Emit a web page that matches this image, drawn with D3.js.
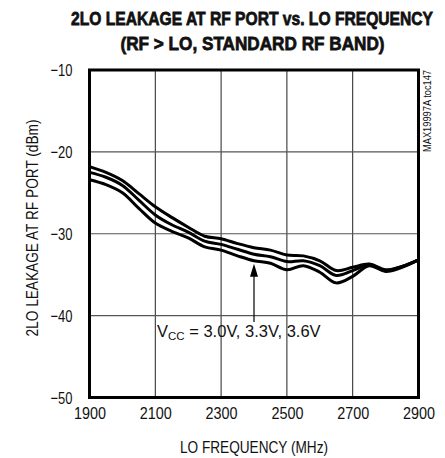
<!DOCTYPE html>
<html>
<head>
<meta charset="utf-8">
<script src="https://cdn.jsdelivr.net/npm/d3@7"></script>
<style>
  html, body { margin: 0; padding: 0; background: #fff; }
  text { font-family: "Liberation Sans Narrow", "Liberation Sans", Arial, sans-serif; fill: #111; }
</style>
</head>
<body>
<svg id="chart" width="445" height="458"></svg>
<script>
// ---- data ----
const freqs = [1900, 1950, 2000, 2050, 2100, 2150, 2200, 2250, 2300, 2350, 2400, 2450, 2500, 2550, 2600, 2650, 2700, 2750, 2800, 2850, 2900];
const seriesTop = [-21.8, -22.5, -23.5, -25.1, -26.7, -28.0, -29.2, -30.3, -30.6, -31.2, -31.7, -32.0, -32.6, -32.7, -33.3, -34.5, -34.1, -33.7, -34.4, -34.0, -33.2];
const seriesMid = [-22.5, -23.1, -24.1, -25.9, -27.7, -28.9, -29.8, -30.9, -31.3, -31.9, -32.5, -32.8, -33.4, -33.3, -33.9, -35.1, -34.5, -33.8, -34.5, -34.0, -33.2];
const seriesBot = [-23.4, -24.0, -25.0, -26.9, -28.7, -29.7, -30.5, -31.6, -32.0, -32.7, -33.3, -33.6, -34.4, -33.9, -34.7, -36.0, -35.2, -33.9, -34.6, -34.1, -33.2];
const xTicks = [1900, 2100, 2300, 2500, 2700, 2900];
const yTicks = [-10, -20, -30, -40, -50];
const titleLines = ["2LO LEAKAGE AT RF PORT vs. LO FREQUENCY", "(RF > LO, STANDARD RF BAND)"];
const xLabel = "LO FREQUENCY (MHz)";
const yLabel = "2LO LEAKAGE AT RF PORT (dBm)";
const watermark = "MAX19997A toc147";
const arrowFreq = 2400;

// ---- layout ----
const svg = d3.select("#chart");
const pL = 89.5, pR = 418.5, pT = 70, pB = 397.5;
const x = d3.scaleLinear().domain([1900, 2900]).range([pL, pR]);
const y = d3.scaleLinear().domain([-50, -10]).range([pB, pT]);

// title (condensed heavy look: small font stretched vertically)
svg.append("text").attr("transform", "translate(252,25) scale(1,1.25)").attr("text-anchor", "middle")
  .attr("font-size", 15).attr("font-weight", "bold")
  .attr("stroke", "#111").attr("stroke-width", 0.6)
  .attr("textLength", 362).attr("lengthAdjust", "spacingAndGlyphs")
  .text(titleLines[0]);
svg.append("text").attr("transform", "translate(252.5,50) scale(1,1.25)").attr("text-anchor", "middle")
  .attr("font-size", 15).attr("font-weight", "bold")
  .attr("stroke", "#111").attr("stroke-width", 0.6)
  .attr("textLength", 264).attr("lengthAdjust", "spacingAndGlyphs")
  .text(titleLines[1]);

// grid
const grid = svg.append("g");
grid.selectAll("line.v").data(xTicks.slice(1, -1)).enter().append("line")
  .attr("x1", d => x(d)).attr("x2", d => x(d)).attr("y1", pT).attr("y2", pB)
  .attr("stroke", "#222").attr("stroke-width", 1);
grid.selectAll("line.h").data(yTicks.slice(1, -1)).enter().append("line")
  .attr("y1", d => y(d)).attr("y2", d => y(d)).attr("x1", pL).attr("x2", pR)
  .attr("stroke", "#555").attr("stroke-width", 1.2);

// axes (labels only)
const xAxis = d3.axisBottom(x).tickValues(xTicks).tickSize(0).tickPadding(0).tickFormat(d3.format("d"));
const gx = svg.append("g").attr("transform", `translate(0,${pB})`).call(xAxis);
gx.select(".domain").remove();
gx.selectAll("text").attr("font-size", 17).attr("dy", null).attr("y", 21)
  .attr("textLength", 32).attr("lengthAdjust", "spacingAndGlyphs")
  .style("font-family", '"Liberation Sans Narrow", "Liberation Sans", Arial, sans-serif').attr("fill", "#111");

const yAxis = d3.axisLeft(y).tickValues(yTicks).tickSize(0).tickPadding(0).tickFormat(d3.format("d"));
const gy = svg.append("g").attr("transform", `translate(${pL},0)`).call(yAxis);
gy.select(".domain").remove();
gy.selectAll("text").attr("font-size", 17).attr("x", -17).attr("dy", "0.35em")
  .attr("textLength", 22).attr("lengthAdjust", "spacingAndGlyphs")
  .style("font-family", '"Liberation Sans Narrow", "Liberation Sans", Arial, sans-serif').attr("fill", "#111");

// axis titles
svg.append("text").attr("x", 254).attr("y", 453).attr("text-anchor", "middle")
  .attr("font-size", 16.5).attr("textLength", 148).attr("lengthAdjust", "spacingAndGlyphs").text(xLabel);
svg.append("text").attr("transform", "translate(38,228) rotate(-90)").attr("text-anchor", "middle")
  .attr("font-size", 16.5).attr("textLength", 217).attr("lengthAdjust", "spacingAndGlyphs").text(yLabel);

// watermark
svg.append("text").attr("transform", "translate(431,111) rotate(-90)").attr("text-anchor", "middle")
  .attr("font-size", 10).attr("textLength", 82).attr("lengthAdjust", "spacingAndGlyphs").text(watermark);

// curves
const line = d3.line().x(d => x(d[0])).y(d => y(d[1])).curve(d3.curveCatmullRom.alpha(0.5));
[seriesTop, seriesMid, seriesBot].forEach(s => {
  svg.append("path").datum(freqs.map((f, i) => [f, s[i]]))
    .attr("d", line).attr("fill", "none").attr("stroke", "#000").attr("stroke-width", 3)
    .attr("stroke-linejoin", "round");
});

// arrow + annotation
const ax = x(arrowFreq);
const tipY = y(seriesBot[freqs.indexOf(arrowFreq)]) + 3;
svg.append("line").attr("x1", ax).attr("x2", ax).attr("y1", tipY + 10).attr("y2", 322)
  .attr("stroke", "#000").attr("stroke-width", 1.2);
svg.append("path").attr("d", `M${ax},${tipY} L${ax - 4},${tipY + 13} L${ax + 4},${tipY + 13} Z`).attr("fill", "#000");

const ann = svg.append("text").attr("x", 157).attr("y", 337).attr("font-size", 16.5);
ann.append("tspan").text("V");
ann.append("tspan").attr("font-size", 11.5).attr("dy", 3).text("CC");
ann.append("tspan").attr("dy", -3).text(" = 3.0V, 3.3V, 3.6V");

// frame
svg.append("rect").attr("x", pL).attr("y", pT).attr("width", pR - pL).attr("height", pB - pT)
  .attr("fill", "none").attr("stroke", "#000").attr("stroke-width", 3);
</script>
</body>
</html>
